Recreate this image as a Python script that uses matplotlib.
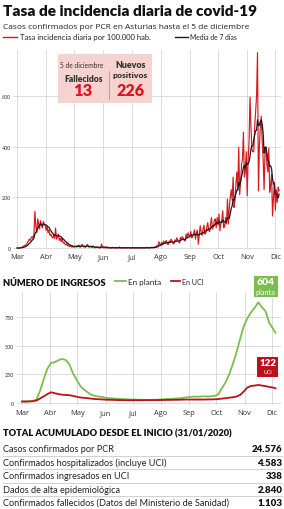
import matplotlib
matplotlib.use("Agg")
import matplotlib.pyplot as plt
import numpy as np
import pandas as pd
from matplotlib.patches import Rectangle
from matplotlib.lines import Line2D

# ------------------------------------------------------------
# Data
# ------------------------------------------------------------
months = ["Mar", "Abr", "May", "Jun", "Jul", "Ago", "Sep", "Oct", "Nov", "Dic"]
month_start = [0, 31, 61, 92, 122, 153, 184, 214, 245, 275]  # days since 1 Mar

# daily incidence, 1 Mar -> 5 Dec
inc_mar = [0, 0, 0, 1, 2, 3, 5, 8, 10, 10, 15, 20, 28, 35, 30, 40, 45, 38, 55, 145,
           85, 60, 115, 95, 75, 108, 90, 80, 105, 95, 88]
inc_abr = [70, 85, 60, 72, 50, 55, 45, 40, 52, 38, 79, 35, 45, 55, 30, 38, 25, 40, 20, 22,
           15, 12, 18, 8, 10, 6, 9, 4, 6, 3]
inc_may = [5, 8, 4, 10, 6, 12, 3, 5, 15, 8, 4, 6, 2, 10, 14, 5, 3, 6, 4, 2,
           8, 3, 1, 2, 4, 1, 3, 0, 2, 16, 2]
inc_jun = [1, 2, 1, 0, 3, 0, 1, 2, 0, 1, 3, 1, 0, 2, 1, 0, 1, 4, 0, 1,
           0, 2, 1, 0, 1, 0, 1, 2, 0, 1]
inc_jul = [0, 1, 0, 2, 0, 1, 0, 1, 2, 0, 1, 0, 2, 1, 0, 1, 3, 1, 0, 2,
           1, 3, 1, 2, 4, 3, 6, 10, 8, 25, 14]
inc_ago = [15, 22, 12, 28, 18, 25, 30, 15, 14, 28, 22, 35, 28, 18, 16, 32, 25, 40, 33, 25,
           20, 42, 35, 45, 38, 30, 28, 55, 42, 60, 48]
inc_sep = [50, 65, 40, 45, 58, 72, 35, 60, 70, 15, 55, 88, 62, 50, 75, 90, 55, 60, 82, 100,
           70, 65, 95, 120, 75, 85, 110, 115, 80, 120]
inc_oct = [90, 134, 68, 100, 110, 147, 80, 85, 120, 95, 193, 95, 160, 200, 230, 190, 280, 160, 190, 250,
           300, 230, 398, 210, 260, 330, 350, 457, 280, 300, 380]
inc_nov = [206, 350, 420, 595, 480, 390, 380, 380, 480, 540, 600, 771, 225, 400, 480, 520, 420, 350, 230, 380,
           400, 330, 300, 394, 220, 250, 290, 126, 200, 260]
inc_dic = [150, 230, 180, 240, 226]

# hospital admissions, sampled every 4 days + 5 Dec
hosp_day = list(range(0, 277, 4)) + [279]
planta = [15, 15, 16, 18, 30, 110, 210, 300, 350, 355, 372, 384, 375, 340, 260, 205, 150, 118, 95, 72,
          62, 56, 52, 45, 42, 40, 38, 35, 33, 32, 30, 30, 28, 28, 27, 27, 28, 28, 30, 33,
          35, 36, 38, 40, 42, 48, 52, 55, 55, 56, 58, 57, 58, 62, 75, 130, 180, 250, 340, 440,
          558, 670, 740, 790, 830, 878, 835, 800, 700, 650, 612]
uci = [12, 12, 13, 15, 22, 40, 58, 78, 93, 85, 78, 72, 70, 68, 62, 55, 48, 45, 42, 38,
       35, 33, 31, 29, 28, 27, 26, 25, 25, 24, 24, 24, 24, 24, 25, 25, 25, 25, 26, 26,
       27, 27, 28, 28, 29, 30, 30, 30, 30, 30, 30, 31, 31, 32, 34, 38, 42, 46, 50, 56,
       70, 100, 135, 148, 152, 157, 152, 147, 140, 135, 128]

totals_lbl = ["Casos confirmados por PCR",
              "Confirmados hospitalizados (incluye UCI)",
              "Confirmados ingresados en UCI",
              "Dados de alta epidemiológica",
              "Confirmados fallecidos (Datos del Ministerio de Sanidad)"]
totals_val = ["24.576", "4.583", "338", "2.840", "1.103"]

inc = pd.Series(inc_mar + inc_abr + inc_may + inc_jun + inc_jul + inc_ago
                + inc_sep + inc_oct + inc_nov + inc_dic)
media7 = inc.rolling(7, min_periods=1).mean()

# ------------------------------------------------------------
# Style
# ------------------------------------------------------------
NARROW = ["Lato", "DejaVu Sans"]
REG = ["Open Sans", "DejaVu Sans"]
RED = "#d7191f"
BLACK = "#1a1a1a"
GREEN = "#7cbd4e"
DRED = "#c00f1d"
GRID = "#cfcfcf"

W, H = 284, 510
fig = plt.figure(figsize=(W / 100, H / 100), dpi=100)
renderer = fig.canvas.get_renderer()


def t(x, y, s, width=None, **kw):
    # place text in pixel coords; optionally scale it to a pixel width
    txt = fig.text(x / W, 1 - y / H, s, **kw)
    if width:
        bb = txt.get_window_extent(renderer)
        txt.set_fontsize(txt.get_fontsize() * width / bb.width)
    return txt


def box(x0, y0, x1, y1, color, z=1):
    fig.patches.append(Rectangle((x0 / W, 1 - y1 / H), (x1 - x0) / W, (y1 - y0) / H,
                                 transform=fig.transFigure, color=color, zorder=z, lw=0))


def hline(x0, x1, y, color, lw, z=2):
    fig.lines.append(Line2D([x0 / W, x1 / W], [1 - y / H] * 2, transform=fig.transFigure,
                            color=color, lw=lw, zorder=z))


# ------------------------------------------------------------
# Header
# ------------------------------------------------------------
t(3, 16.5, "Tasa de incidencia diaria de covid-19", width=255, family=NARROW,
  fontweight="heavy", fontsize=14, color="#111111", va="baseline")
t(3, 29, "Casos confirmados por PCR en Asturias hasta el 5 de diciembre", width=249,
  family=REG, fontsize=6.0, color="#222222", va="baseline")
hline(3, 17, 37.5, RED, 1.0)
t(20, 37.5, "Tasa incidencia diaria por 100.000 hab.", width=133, family=NARROW,
  fontsize=6.0, color="#222222", va="center")
hline(175, 188, 37.5, BLACK, 1.0)
t(190, 37.5, "Media de 7 días", width=47, family=NARROW, fontsize=6.0, color="#222222",
  va="center")

# ------------------------------------------------------------
# Top chart
# ------------------------------------------------------------
ax1 = fig.add_axes([13 / W, 1 - 250.3 / H, 268 / W, 199 / H])
x = np.arange(len(inc))
ax1.plot(x, inc, color=RED, lw=0.85, zorder=3, clip_on=False)
ax1.plot(x, media7, color=BLACK, lw=0.9, zorder=4)
ax1.set_xlim(-4.3, 281)
ax1.set_ylim(-5, 780)
ax1.set_xticks(month_start)
ax1.set_xticklabels(months, family=REG, fontsize=5.4, color="#333333")
ax1.set_yticks([0, 200, 400, 600])
ax1.set_yticklabels(["0", "200", "400", "600"], family=NARROW, fontsize=3.9, color="#333333")
ax1.tick_params(length=0, pad=1.5)
ax1.tick_params(axis="x", pad=3)
ax1.grid(True, color=GRID, lw=0.5)
for s in ax1.spines.values():
    s.set_visible(False)
ax1.set_axisbelow(True)

# info box
box(58, 55, 152, 103.5, "#f7d3d0", z=5)
fig.lines.append(Line2D([109 / W, 109 / W], [1 - 72 / H, 1 - 100 / H], transform=fig.transFigure,
                        color="#a08a8a", lw=0.5, zorder=6))
t(82, 65, "5 de diciembre", width=43, family=NARROW, fontsize=5.2, color="#333333",
  ha="center", va="center", zorder=7)
t(130.5, 65, "Nuevos", width=31, family=NARROW, fontweight="heavy", fontsize=6.0,
  color="#333333", ha="center", va="center", zorder=7)
t(130.5, 75.5, "positivos", width=35, family=NARROW, fontweight="heavy", fontsize=6.0,
  color="#333333", ha="center", va="center", zorder=7)
t(84, 79.5, "Fallecidos", width=39, family=NARROW, fontweight="heavy", fontsize=6.0,
  color="#333333", ha="center", va="center", zorder=7)
t(83, 91.5, "13", family=NARROW, fontweight="heavy", fontsize=12, color=RED,
  ha="center", va="center", zorder=7)
t(131, 91.5, "226", width=28, family=NARROW, fontweight="heavy", fontsize=12, color=RED,
  ha="center", va="center", zorder=7)

# ------------------------------------------------------------
# Bottom chart
# ------------------------------------------------------------
t(3, 283, "NÚMERO DE INGRESOS", width=104, family=NARROW, fontweight="heavy", fontsize=7.2,
  color="#111111", va="center")
hline(115, 126, 282, GREEN, 1.3)
t(128, 282.5, "En planta", width=33, family=NARROW, fontsize=6.0, color="#222222",
  va="center")
hline(171, 180, 282, DRED, 1.3)
t(181.5, 282.5, "En UCI", width=21.5, family=NARROW, fontsize=6.0, color="#222222",
  va="center")

ax2 = fig.add_axes([17 / W, 1 - 405.7 / H, 264 / W, 112.4 / H])
ax2.plot(hosp_day, planta, color=GREEN, lw=1.3, zorder=3)
ax2.plot(hosp_day, uci, color=DRED, lw=1.3, zorder=4)
ax2.set_xlim(-5.5, 285)
ax2.set_ylim(-15, 965)
ax2.set_xticks(month_start)
ax2.set_xticklabels(months, family=REG, fontsize=5.4, color="#333333")
ax2.set_yticks([0, 250, 500, 750])
ax2.set_yticklabels(["0", "250", "500", "750"], family=NARROW, fontsize=3.9, color="#333333")
ax2.tick_params(length=0, pad=2)
ax2.tick_params(axis="x", pad=3)
ax2.grid(True, color=GRID, lw=0.5)
for s in ax2.spines.values():
    s.set_visible(False)
ax2.set_axisbelow(True)

box(254, 276.5, 277.5, 297.5, GREEN, z=5)
t(265.8, 282.3, "604", width=18, family=NARROW, fontweight="heavy", fontsize=8,
  color="white", ha="center", va="center", zorder=7)
t(265.8, 292.3, "planta", width=20, family=NARROW, fontsize=5.2, color="white",
  ha="center", va="center", zorder=7)
box(257, 358, 278, 377.5, DRED, z=5)
t(267.5, 363.3, "122", width=17, family=NARROW, fontweight="heavy", fontsize=8,
  color="white", ha="center", va="center", zorder=7)
t(267.5, 372.6, "UCI", width=9, family=NARROW, fontsize=5.2, color="white",
  ha="center", va="center", zorder=7)

# ------------------------------------------------------------
# Totals table
# ------------------------------------------------------------
t(3, 434, "TOTAL ACUMULADO DESDE EL INICIO (31/01/2020)", width=229, family=NARROW,
  fontweight="heavy", fontsize=7.3, color="#111111", va="center")
row_y = [450, 463.5, 477, 490.2, 503.5]
probe = t(3, row_y[-1], totals_lbl[-1], width=227, family=NARROW, fontsize=5.8)
row_fs = probe.get_fontsize()
probe.remove()
for i, (lbl, val) in enumerate(zip(totals_lbl, totals_val)):
    t(3, row_y[i], lbl, family=NARROW, fontsize=row_fs, color="#222222", va="center")
    t(282.5, row_y[i], val, family=NARROW, fontweight="heavy", fontsize=7.0, color="#111111",
      ha="right", va="center")
    if i < len(totals_lbl) - 1:
        hline(3, 282, row_y[i] + 6.6, "#bdbdbd", 0.5)

fig.savefig("out.png", dpi=100)
